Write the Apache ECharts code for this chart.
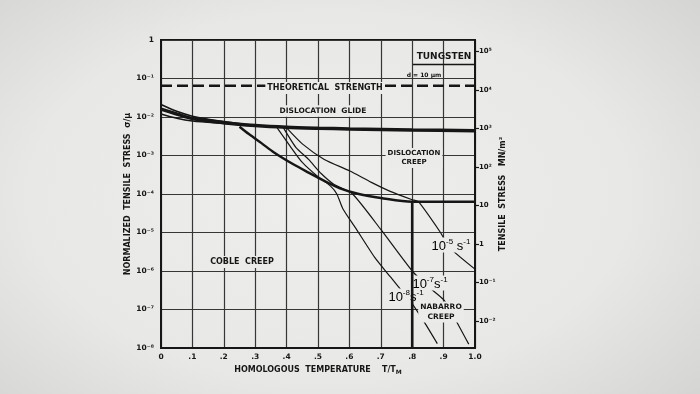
<!DOCTYPE html>
<html>
<head>
<meta charset="utf-8">
<script src="https://cdn.jsdelivr.net/npm/echarts@6/dist/echarts.min.js"></script>
<style>
html,body{margin:0;padding:0;width:700px;height:394px;overflow:hidden;
background:radial-gradient(ellipse 78% 85% at 47% 50%, #eeeeec 0%, #e8e8e6 55%, #cfcfcd 100%);}
#c{width:700px;height:394px;}
</style>
</head>
<body>
<div id="c"></div>
<script>
// ---- data (T/Tm, sigma/mu) ----
const glideT = [0, 0.05, 0.1, 0.2, 0.3, 0.4, 0.5, 0.6, 0.8, 1.0];
const glideS = [1.6e-2, 1.2e-2, 9.1e-3, 7.1e-3, 6.0e-3, 5.4e-3, 5.1e-3, 4.9e-3, 4.6e-3, 4.4e-3];
const glideUpperT = [0, 0.05, 0.1, 0.2, 0.3];
const glideUpperS = [2.1e-2, 1.4e-2, 1.05e-2, 7.6e-3, 6.0e-3];
const glideLowerT = [0, 0.05, 0.1, 0.2, 0.3];
const glideLowerS = [1.2e-2, 9.3e-3, 7.9e-3, 6.8e-3, 5.9e-3];
const theoT = [0, 1.0];
const theoS = [0.065, 0.065];
const cobleT = [0.25, 0.28, 0.32, 0.36, 0.42, 0.47, 0.52, 0.57, 0.63, 0.7, 0.8, 1.0];
const cobleS = [5.6e-3, 3.6e-3, 2.1e-3, 1.2e-3, 6.0e-4, 3.6e-4, 2.2e-4, 1.4e-4, 1.0e-4, 7.9e-5, 6.3e-5, 6.3e-5];
const nabarroT = [0.8, 0.8];
const nabarroS = [6.3e-5, 1e-8];
const rate5T = [0.40, 0.45, 0.52, 0.6, 0.67, 0.73, 0.8, 0.82, 0.89, 0.92, 1.0];
const rate5S = [5.2e-3, 2.0e-3, 7.9e-4, 4.0e-4, 2.0e-4, 1.17e-4, 7.1e-5, 6.3e-5, 1.0e-5, 4.0e-6, 1.12e-6];
const rate7T = [0.39, 0.43, 0.47, 0.51, 0.55, 0.61, 0.7, 0.8, 0.85, 0.9, 0.93, 0.98];
const rate7S = [5.2e-3, 1.6e-3, 7.9e-4, 3.4e-4, 1.8e-4, 1.0e-4, 1.2e-5, 1.0e-6, 4.0e-7, 1.8e-7, 7.1e-8, 1.26e-8];
const rate8T = [0.37, 0.41, 0.45, 0.5, 0.54, 0.56, 0.58, 0.62, 0.68, 0.73, 0.8, 0.84, 0.88];
const rate8S = [5.2e-3, 1.8e-3, 6.6e-4, 2.8e-4, 1.6e-4, 1.0e-4, 4.0e-5, 1.3e-5, 2.3e-6, 7.1e-7, 1.4e-7, 4.5e-8, 1.3e-8];
const stressExps = [-2, -1, 0, 1, 2, 3, 4, 5];

const INK = '#161616';
const GRIDC = '#363636';
const PAPER = '#ebebe9';
const FONT = 'DejaVu Sans';
const SUP = {'-':'⁻','0':'⁰','1':'¹','2':'²','3':'³','4':'⁴','5':'⁵','6':'⁶','7':'⁷','8':'⁸','9':'⁹'};
function pow10Label(e){
  if (e === 0) return '1';
  if (e === 1) return '10';
  return '10' + String(e).split('').map(c => SUP[c]).join('');
}
function zip(a, b){ return a.map((v, i) => [v, b[i]]); }
function line(data, width, z, extra){
  return Object.assign({
    type:'line', data:data, symbol:'none', silent:true, z:z,
    lineStyle:{color:INK, width:width}
  }, extra || {});
}

const chart = echarts.init(document.getElementById('c'), null, {renderer:'canvas'});
const rateRich = {
  b:{fontSize:13, fontFamily:'Liberation Sans', color:INK, verticalAlign:'bottom', lineHeight:15},
  s:{fontSize:8, fontFamily:'Liberation Sans', color:INK, verticalAlign:'top', lineHeight:15}
};
function rateLabel(txt, x, y){
  return {type:'text', x:x, y:y, z:5,
    style:{text:txt, rich:rateRich, align:'center', verticalAlign:'middle',
      backgroundColor:PAPER, padding:[0,1]}};
}
function regionLabel(txt, x, y, size){
  return {type:'text', x:x, y:y, z:5,
    style:{text:txt, font:'bold ' + size + 'px ' + FONT, fill:INK, align:'center',
      verticalAlign:'middle', backgroundColor:PAPER, padding:[1,2], lineHeight:size + 2}};
}

const option = {
  animation:false,
  backgroundColor:'transparent',
  grid:{left:161, right:225, top:40, bottom:46, show:true, borderColor:INK, borderWidth:2,
    backgroundColor:'transparent'},
  xAxis:{
    type:'value', min:0, max:1, interval:0.1,
    axisLine:{show:true, onZero:false, lineStyle:{color:INK, width:2}},
    axisTick:{show:false},
    splitLine:{show:true, lineStyle:{color:GRIDC, width:1.2}},
    axisLabel:{color:INK, fontSize:7.5, fontWeight:'bold', fontFamily:FONT, margin:5,
      formatter:v => { const k = Math.round(v * 10); return k === 0 ? '0' : (k === 10 ? '1.0' : '.' + k); }},
    name:'{a|HOMOLOGOUS  TEMPERATURE    T/T}{m|M}',
    nameLocation:'middle', nameGap:17,
    nameTextStyle:{rich:{
      a:{fontSize:8, fontWeight:'bold', fontFamily:FONT, color:INK},
      m:{fontSize:6, fontWeight:'bold', fontFamily:FONT, color:INK, verticalAlign:'bottom', padding:[4,0,0,0]}
    }}
  },
  yAxis:[
    {
      type:'log', logBase:10, min:1e-8, max:1, splitNumber:8, position:'left',
      axisLine:{show:true, onZero:false, lineStyle:{color:INK, width:2}},
      axisTick:{show:false},
      minorTick:{show:false}, minorSplitLine:{show:false},
      splitLine:{show:true, lineStyle:{color:GRIDC, width:1.2}},
      axisLabel:{color:INK, fontSize:7.5, fontWeight:'bold', fontFamily:FONT, margin:7,
        formatter:v => pow10Label(Math.round(Math.log10(v)))},
      name:'NORMALIZED  TENSILE  STRESS  σ/μ',
      nameLocation:'middle', nameRotate:90, nameGap:23,
      nameTextStyle:{fontSize:8, fontWeight:'bold', fontFamily:FONT, color:INK}
    },
    {
      type:'value', min:-2.7, max:5.3, position:'right',
      axisLine:{show:true, onZero:false, lineStyle:{color:INK, width:2}},
      axisTick:{show:true, length:4, customValues:stressExps, lineStyle:{color:INK, width:1.2}},
      splitLine:{show:false},
      axisLabel:{color:INK, fontSize:7, fontWeight:'bold', fontFamily:FONT, margin:4,
        customValues:stressExps, formatter:v => pow10Label(Math.round(v))},
      name:'TENSILE  STRESS   MN/m²',
      nameLocation:'middle', nameRotate:90, nameGap:24,
      nameTextStyle:{fontSize:8, fontWeight:'bold', fontFamily:FONT, color:INK}
    }
  ],
  series:[
    line(zip(theoT, theoS), 2.5, 1, {lineStyle:{color:INK, width:2.5, type:[11,5]}}),
    line(zip(glideT, glideS), 3.5, 1, {smooth:0.3}),
    line(zip(glideUpperT, glideUpperS), 1.6, 1, {smooth:0.3}),
    line(zip(glideLowerT, glideLowerS), 1.6, 1, {smooth:0.3}),
    line(zip(cobleT, cobleS), 2.4, 1, {smooth:0.3}),
    line(zip(rate5T, rate5S), 1.2, 1, {smooth:0.2}),
    line(zip(rate7T, rate7S), 1.2, 1, {smooth:0.2}),
    line(zip(rate8T, rate8S), 1.2, 1, {smooth:0.2}),
    line(zip(nabarroT, nabarroS), 2.6, 8)
  ],
  graphic:[
    {type:'text', x:444, y:57, z:5, style:{text:'TUNGSTEN', font:'bold 9px ' + FONT, fill:INK, align:'center', verticalAlign:'middle'}},
    {type:'line', z:5, shape:{x1:413, y1:64.5, x2:474, y2:64.5}, style:{stroke:INK, lineWidth:1.6}},
    {type:'text', x:424, y:75, z:5, style:{text:'d = 10 μm', font:'bold 6px ' + FONT, fill:INK, align:'center', verticalAlign:'middle'}},
    regionLabel('THEORETICAL  STRENGTH', 325, 88, 8),
    regionLabel('DISLOCATION  GLIDE', 323, 111, 7.5),
    regionLabel('DISLOCATION\nCREEP', 414, 158, 7),
    regionLabel('COBLE  CREEP', 242, 262, 8),
    regionLabel('NABARRO\nCREEP', 441, 312, 7.5),
    rateLabel('{b|10}{s|-5}{b| s}{s|-1}', 451, 245),
    rateLabel('{b|10}{s|-7}{b|s}{s|-1}', 430, 283),
    rateLabel('{b|10}{s|-8}{b|s}{s|-1}', 406, 296)
  ]
};
chart.setOption(option);
</script>
</body>
</html>
